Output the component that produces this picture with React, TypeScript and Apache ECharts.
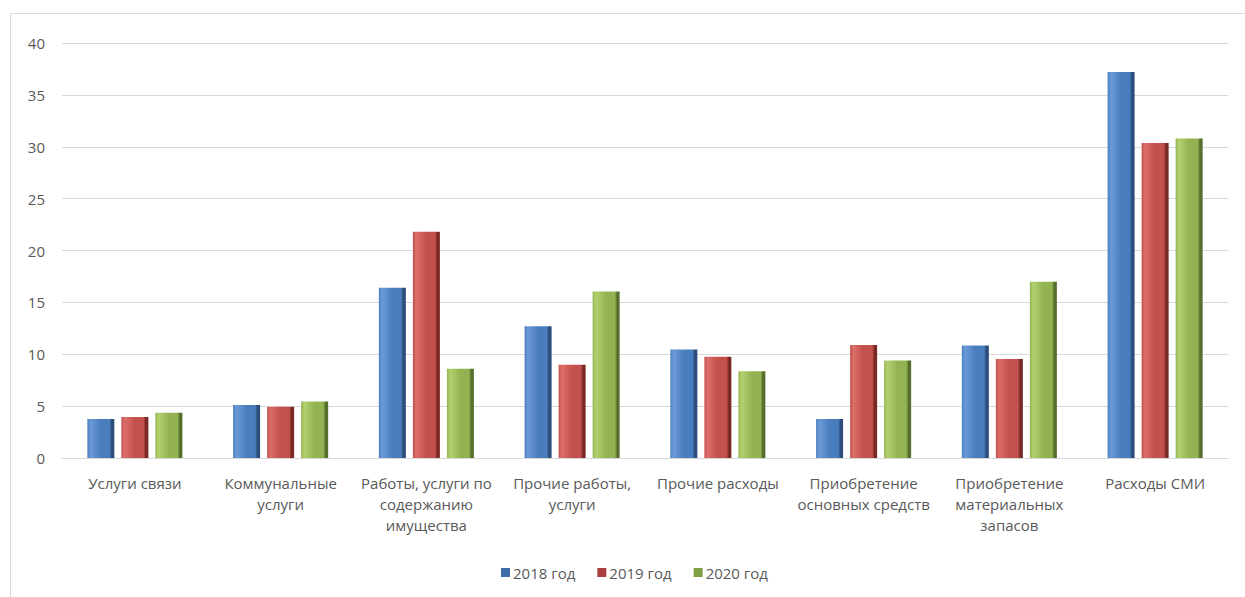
import React, { useEffect, useRef } from "react";
import * as echarts from "echarts";

const categories = [
  "Услуги связи",
  "Коммунальные\nуслуги",
  "Работы, услуги по\nсодержанию\nимущества",
  "Прочие работы,\nуслуги",
  "Прочие расходы",
  "Приобретение\nосновных средств",
  "Приобретение\nматериальных\nзапасов",
  "Расходы СМИ",
];
const seriesNames = ["2018 год", "2019 год", "2020 год"];
const values2018 = [3.75, 5.1, 16.4, 12.7, 10.45, 3.75, 10.85, 37.2];
const values2019 = [3.95, 4.95, 21.8, 9.0, 9.75, 10.9, 9.55, 30.35];
const values2020 = [4.35, 5.45, 8.6, 16.05, 8.35, 9.4, 17.0, 30.8];
const yTicks = { min: 0, max: 40, interval: 5 };

const palettes = [
  { light: "#6b9ad8", base: "#4a7dbd", dark: "#2c4d7a", legend: "#3f6da8" },
  { light: "#dc6e6a", base: "#c2504c", dark: "#7a2826", legend: "#a9403d" },
  { light: "#b2d06e", base: "#93b352", dark: "#566f2c", legend: "#80a044" },
];

function barGradient(p: { light: string; base: string; dark: string }) {
  return new echarts.graphic.LinearGradient(0, 0, 1, 0, [
    { offset: 0, color: p.base },
    { offset: 0.12, color: p.light },
    { offset: 0.5, color: p.base },
    { offset: 0.82, color: p.base },
    { offset: 0.9, color: p.dark },
    { offset: 1, color: p.dark },
  ]);
}

export default function App() {
  const ref = useRef<HTMLDivElement>(null);
  useEffect(() => {
    if (!ref.current) return;
    const chart = echarts.init(ref.current, null, { renderer: "svg" });
    const font = "Open Sans";
    const data = [values2018, values2019, values2020];
    chart.setOption({
      animation: false,
      backgroundColor: "#ffffff",
      textStyle: { fontFamily: font },
      graphic: [
        {
          type: "rect",
          shape: { x: 10.5, y: 13.5, width: 1260, height: 620 },
          style: { fill: "none", stroke: "#d9d9d9", lineWidth: 1 },
          silent: true,
        },
      ],
      grid: { left: 62, right: 17, top: 43, bottom: 139, containLabel: false },
      legend: {
        top: 560,
        left: 496,
        itemWidth: 9,
        itemHeight: 9,
        itemGap: 22,
        icon: "rect",
        textStyle: { color: "#595959", fontSize: 15, fontFamily: font, padding: [0, 0, 0, -2] },
        data: seriesNames.map((n, i) => ({ name: n, itemStyle: { color: palettes[i].legend } })),
      },
      xAxis: {
        type: "category",
        data: categories,
        axisLine: { lineStyle: { color: "#d9d9d9" } },
        axisTick: { show: false },
        axisLabel: {
          color: "#595959",
          fontSize: 15,
          fontFamily: font,
          lineHeight: 21,
          margin: 14,
          interval: 0,
        },
      },
      yAxis: {
        type: "value",
        min: yTicks.min,
        max: yTicks.max,
        interval: yTicks.interval,
        axisLine: { show: false },
        axisTick: { show: false },
        splitLine: { lineStyle: { color: "#d9d9d9" } },
        axisLabel: { color: "#595959", fontSize: 15, fontFamily: font, margin: 17 },
      },
      series: seriesNames.map((n, i) => ({
        name: n,
        type: "bar",
        data: data[i],
        barWidth: 27,
        barGap: "26%",
        itemStyle: { color: barGradient(palettes[i]) },
      })),
    });
    return () => chart.dispose();
  }, []);
  return (
    <div
      ref={ref}
      style={{ position: "fixed", left: 0, top: 0, width: 1245, height: 597 }}
    />
  );
}
